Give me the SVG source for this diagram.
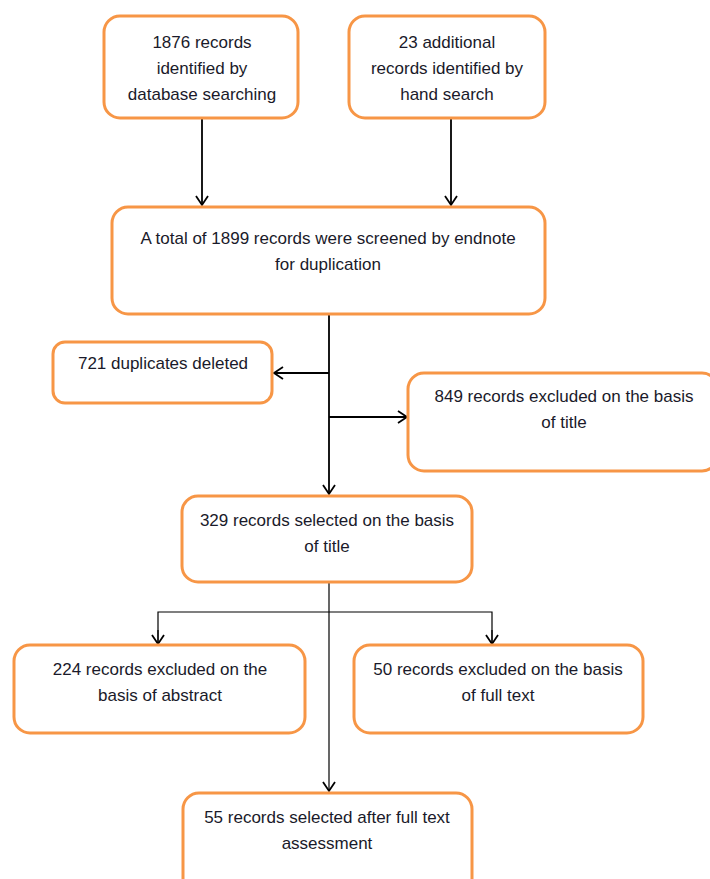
<svg xmlns="http://www.w3.org/2000/svg" width="710" height="879" viewBox="0 0 710 879">
<defs>
<style>
.box{fill:#fff;stroke:#F79646;stroke-width:3}
.t{font-family:"Liberation Sans",Arial,sans-serif;font-size:17px;fill:#1a1a2a;text-anchor:middle}
.c{fill:none;stroke:#000;stroke-width:1.8}
.c2{fill:none;stroke:#000;stroke-width:1.2}
</style>
<marker id="ah" markerWidth="14" markerHeight="14" refX="11" refY="7" orient="auto" markerUnits="userSpaceOnUse">
<path d="M2,1 L11,7 L2,13" fill="none" stroke="#000" stroke-width="1.8"/>
</marker>
</defs>
<rect width="710" height="879" fill="#fff"/>
<g id="connectors">
<line class="c" x1="202" y1="118" x2="202" y2="205" marker-end="url(#ah)"/>
<line class="c" x1="451" y1="118" x2="451" y2="205" marker-end="url(#ah)"/>
<line class="c" x1="329" y1="314" x2="329" y2="494" marker-end="url(#ah)"/>
<line class="c" x1="329" y1="373" x2="274" y2="373" marker-end="url(#ah)"/>
<line class="c" x1="329" y1="417" x2="407" y2="417" marker-end="url(#ah)"/>
<line class="c2" x1="329" y1="582" x2="329" y2="791" marker-end="url(#ah)"/>
<polyline class="c2" points="158,643 158,612 492,612 492,643"/>
<line class="c2" x1="158" y1="630" x2="158" y2="644" marker-end="url(#ah)"/>
<line class="c2" x1="492" y1="630" x2="492" y2="644" marker-end="url(#ah)"/>
</g>
<g id="n1">
<rect class="box" x="104" y="16" width="194" height="102" rx="16"/>
<text class="t" x="202" y="48">1876 records</text>
<text class="t" x="202" y="74">identified by</text>
<text class="t" x="202" y="100">database searching</text>
</g>
<g id="n2">
<rect class="box" x="349" y="16" width="196" height="102" rx="16"/>
<text class="t" x="447" y="48">23 additional</text>
<text class="t" x="447" y="74">records identified by</text>
<text class="t" x="447" y="100">hand search</text>
</g>
<g id="n3">
<rect class="box" x="112" y="207" width="433" height="107" rx="16"/>
<text class="t" x="328" y="244">A total of 1899 records were screened by endnote</text>
<text class="t" x="328" y="270">for duplication</text>
</g>
<g id="n4">
<rect class="box" x="53" y="342" width="219" height="61" rx="12"/>
<text class="t" x="163" y="369">721 duplicates deleted</text>
</g>
<g id="n5">
<rect class="box" x="408" y="373" width="310" height="98" rx="16"/>
<text class="t" x="564" y="402">849 records excluded on the basis</text>
<text class="t" x="564" y="428">of title</text>
</g>
<g id="n6">
<rect class="box" x="182" y="496" width="290" height="86" rx="16"/>
<text class="t" x="327" y="526">329 records selected on the basis</text>
<text class="t" x="327" y="552">of title</text>
</g>
<g id="n7">
<rect class="box" x="14" y="645" width="291" height="88" rx="16"/>
<text class="t" x="160" y="675">224 records excluded on the</text>
<text class="t" x="160" y="701">basis of abstract</text>
</g>
<g id="n8">
<rect class="box" x="354" y="645" width="289" height="88" rx="16"/>
<text class="t" x="498" y="675">50 records excluded on the basis</text>
<text class="t" x="498" y="701">of full text</text>
</g>
<g id="n9">
<rect class="box" x="183" y="793" width="289" height="102" rx="16"/>
<text class="t" x="327" y="823">55 records selected after full text</text>
<text class="t" x="327" y="849">assessment</text>
</g>
</svg>
